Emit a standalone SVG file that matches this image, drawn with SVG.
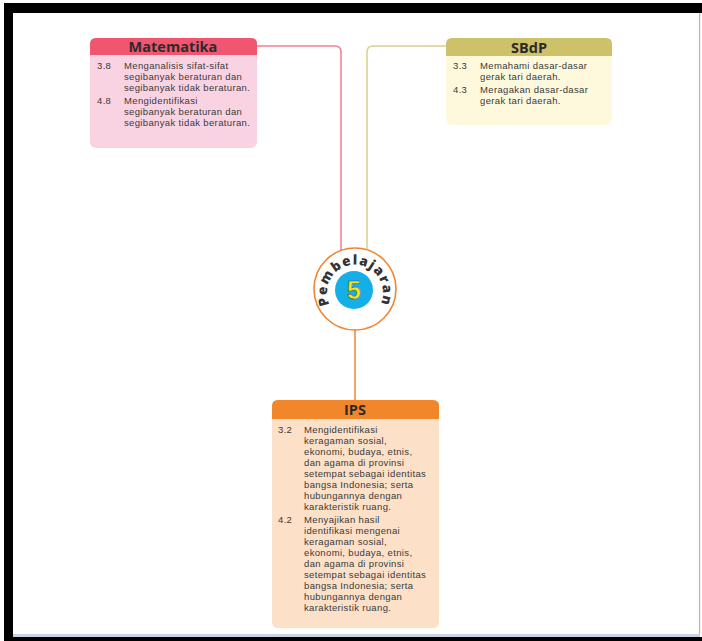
<svg xmlns="http://www.w3.org/2000/svg" width="702" height="641" viewBox="0 0 702 641">
<style>
.title{font-family:"Open Sans","Liberation Sans",sans-serif;font-weight:700;font-size:14.5px;fill:#2b2b2b;text-anchor:middle}
.t{font-family:"Liberation Sans",Arial,sans-serif;font-size:9.5px;letter-spacing:0.35px;fill:#3a3a3a}
.conn{fill:none;stroke-width:1.5}
</style>
<rect x="0" y="0" width="702" height="641" fill="#ffffff"/>
<!-- frame -->
<rect x="13" y="634" width="687" height="3" fill="#c9d3e8"/>
<rect x="699" y="13" width="1.2" height="621" fill="#b8b8b8"/>
<rect x="4" y="3" width="698" height="10" fill="#000"/>
<rect x="4" y="3" width="9" height="638" fill="#000"/>
<rect x="4" y="637" width="698" height="4" fill="#000"/>

<g id="connectors">
  <path class="conn" stroke="#f27f97" d="M257,46 H335 Q341,46 341,52 V252"/>
  <path class="conn" stroke="#d9cf8c" d="M446,46 H373 Q367,46 367,52 V252"/>
  <path class="conn" stroke="#f2862a" d="M355,330 V400"/>
</g>

<g id="matematika">
  <rect x="90" y="38" width="167" height="110" rx="6" fill="#fad3e2"/>
  <path d="M90,55 V44 Q90,38 96,38 H251 Q257,38 257,44 V55 Z" fill="#f0566f"/>
  <text class="title" x="173" y="52">Matematika</text>
  <text class="t" x="97" y="69">3.8</text>
  <text class="t" x="124" y="69">Menganalisis sifat-sifat</text>
  <text class="t" x="124" y="80">segibanyak beraturan dan</text>
  <text class="t" x="124" y="91">segibanyak tidak beraturan.</text>
  <text class="t" x="97" y="104">4.8</text>
  <text class="t" x="124" y="104">Mengidentifikasi</text>
  <text class="t" x="124" y="115">segibanyak beraturan dan</text>
  <text class="t" x="124" y="126">segibanyak tidak beraturan.</text>
</g>

<g id="sbdp">
  <rect x="446" y="38" width="166" height="87" rx="6" fill="#fef9dc"/>
  <path d="M446,56 V44 Q446,38 452,38 H606 Q612,38 612,44 V56 Z" fill="#cdc169"/>
  <text class="title" x="529" y="52.5">SBdP</text>
  <text class="t" x="453" y="69">3.3</text>
  <text class="t" x="480" y="69">Memahami dasar-dasar</text>
  <text class="t" x="480" y="80">gerak tari daerah.</text>
  <text class="t" x="453" y="93">4.3</text>
  <text class="t" x="480" y="93">Meragakan dasar-dasar</text>
  <text class="t" x="480" y="104">gerak tari daerah.</text>
</g>

<g id="pembelajaran">
  <circle cx="355" cy="289" r="41" fill="#ffffff" stroke="#f0862e" stroke-width="1.6"/>
  <circle cx="354" cy="290" r="19" fill="#14aee8"/>
  <text x="354" y="299" font-family="'Liberation Sans',Arial,sans-serif" font-weight="700" font-size="25" fill="#f7e51b" stroke="#4a4a4a" stroke-width="0.5" text-anchor="middle">5</text>
  <path id="arc" fill="none" d="M328.4,301.4 A28,28 0 1 1 381.6,301.4"/>
  <text font-family="'Open Sans','Liberation Sans',sans-serif" font-weight="800" font-size="13.5" fill="#333" letter-spacing="1.3"><textPath href="#arc" startOffset="50%" text-anchor="middle">Pembelajaran</textPath></text>
</g>

<g id="ips">
  <rect x="272" y="400" width="167" height="228" rx="6" fill="#fde0c8"/>
  <path d="M272,419 V406 Q272,400 278,400 H433 Q439,400 439,406 V419 Z" fill="#f2862a"/>
  <text class="title" x="355" y="415">IPS</text>
  <text class="t" x="278" y="433">3.2</text>
  <text class="t" x="304" y="433">Mengidentifikasi</text>
  <text class="t" x="304" y="444">keragaman sosial,</text>
  <text class="t" x="304" y="455">ekonomi, budaya, etnis,</text>
  <text class="t" x="304" y="466">dan agama di provinsi</text>
  <text class="t" x="304" y="477">setempat sebagai identitas</text>
  <text class="t" x="304" y="488">bangsa Indonesia; serta</text>
  <text class="t" x="304" y="499">hubungannya dengan</text>
  <text class="t" x="304" y="510">karakteristik ruang.</text>
  <text class="t" x="278" y="523">4.2</text>
  <text class="t" x="304" y="523">Menyajikan hasil</text>
  <text class="t" x="304" y="534">identifikasi mengenai</text>
  <text class="t" x="304" y="545">keragaman sosial,</text>
  <text class="t" x="304" y="556">ekonomi, budaya, etnis,</text>
  <text class="t" x="304" y="567">dan agama di provinsi</text>
  <text class="t" x="304" y="578">setempat sebagai identitas</text>
  <text class="t" x="304" y="589">bangsa Indonesia; serta</text>
  <text class="t" x="304" y="600">hubungannya dengan</text>
  <text class="t" x="304" y="611">karakteristik ruang.</text>
</g>
</svg>
